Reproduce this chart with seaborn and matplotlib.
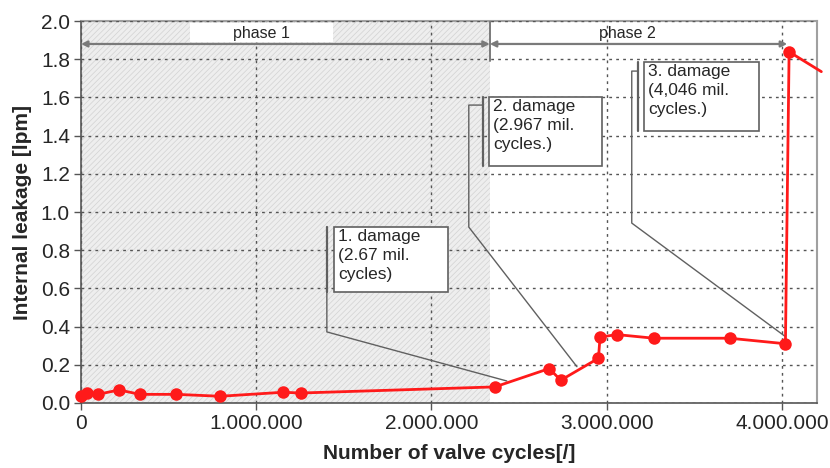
import seaborn as sns
import matplotlib.pyplot as plt
import pandas as pd
from matplotlib.ticker import FuncFormatter, MultipleLocator

# ---------------------------
# Data
# ---------------------------
cycles = [0, 36000, 95000, 217000, 337000, 544000, 795000, 1154000, 1253000,
          2362000, 2672000, 2738000, 2953000, 2962000, 3058000, 3269000,
          3702000, 4020000, 4041000]
leakage = [0.038, 0.050, 0.045, 0.068, 0.045, 0.045, 0.035, 0.056, 0.052,
           0.084, 0.180, 0.119, 0.234, 0.345, 0.358, 0.339,
           0.339, 0.310, 1.839]
# line keeps going past the right edge of the plot
tail_x = [4041000, 4225000]
tail_y = [1.839, 1.735]

phase_split = 2333000
phase_end = 4030000

damage_labels = ["1. damage\n(2.67 mil.\ncycles)",
                 "2. damage\n(2.967 mil.\ncycles.)",
                 "3. damage\n(4,046 mil.\ncycles.)"]

df = pd.DataFrame({"cycles": cycles, "leakage": leakage})

# ---------------------------
# Visualization
# ---------------------------
sns.set_style("white")
plt.rcParams["font.family"] = ["Liberation Sans", "DejaVu Sans"]
plt.rcParams["hatch.linewidth"] = 0.5

fig = plt.figure(figsize=(8.3, 4.68), dpi=100)
ax = fig.add_axes([0.0976, 0.139, 0.8867, 0.816])

# hatched phase 1 region
ax.axvspan(0, phase_split, facecolor="#eeeeee", edgecolor="#d2d2d2",
           hatch="//////", linewidth=0, zorder=0)

sns.lineplot(data=df, x="cycles", y="leakage", sort=False, estimator=None,
             color="#ff1a1a", linewidth=2, marker="o", markersize=9,
             markeredgewidth=0, clip_on=False, ax=ax, zorder=5)
ax.plot(tail_x, tail_y, color="#ff1a1a", linewidth=2, clip_on=False, zorder=5)

ax.set_xlim(0, 4200000)
ax.set_ylim(0, 2.0)
ax.xaxis.set_major_locator(MultipleLocator(1000000))
ax.yaxis.set_major_locator(MultipleLocator(0.2))
ax.xaxis.set_major_formatter(FuncFormatter(lambda v, p: f"{int(v):,}".replace(",", ".")))
ax.yaxis.set_major_formatter(FuncFormatter(lambda v, p: f"{v:.1f}"))
ax.tick_params(axis="both", labelsize=15, length=5, width=1, color="#555555",
               direction="out", left=True, bottom=True, pad=3)

ax.grid(True, linestyle=(0, (2, 3)), color="#555555", linewidth=1)
ax.set_axisbelow(False)
for ln in ax.get_xgridlines() + ax.get_ygridlines():
    ln.set_zorder(1)

for side in ["top", "right"]:
    ax.spines[side].set_color("#a0a0a0")
    ax.spines[side].set_linewidth(1.5)
for side in ["left", "bottom"]:
    ax.spines[side].set_color("#555555")
    ax.spines[side].set_linewidth(1.2)

ax.set_xlabel("Number of valve cycles[/]", fontsize=15, fontweight="bold", labelpad=8)
ax.set_ylabel("Internal leakage [lpm]", fontsize=15, fontweight="bold", labelpad=6)

# phase arrows
arrow_y = 1.88
arr = dict(arrowstyle="<|-|>", color="#7a7a7a", lw=1.6, mutation_scale=9,
           shrinkA=0, shrinkB=0)
ax.annotate("", xy=(0, arrow_y), xytext=(phase_split, arrow_y), arrowprops=arr, zorder=6)
ax.annotate("", xy=(phase_split, arrow_y), xytext=(phase_end, arrow_y), arrowprops=arr, zorder=6)
ax.plot([phase_split, phase_split], [1.79, 2.0], color="#7a7a7a", lw=1.4, zorder=6)
ax.fill_between([620000, 1440000], 1.89, 1.99, color="white", zorder=3, linewidth=0)
ax.text(1030000, 1.937, "phase 1", ha="center", va="center", fontsize=11.5, zorder=7)
ax.text(3120000, 1.937, "phase 2", ha="center", va="center", fontsize=11.5, zorder=7)

# damage callouts: box (x0, x1, ytop, ybottom), bracket x, leader path
boxes = [(1443000, 2094000, 0.921, 0.581),
         (2327000, 2972000, 1.602, 1.241),
         (3212000, 3868000, 1.785, 1.424)]
brackets = [1403000, 2293000, 3177000]
leaders = [([1403000, 1403000, 2430000], [0.921, 0.372, 0.115]),
           ([2293000, 2213000, 2213000, 2830000], [1.560, 1.560, 0.921, 0.190]),
           ([3177000, 3143000, 3143000, 4016000], [1.738, 1.738, 0.942, 0.350])]

for (x0, x1, yt, yb), bx, (lx, lyv), label in zip(boxes, brackets, leaders, damage_labels):
    ax.fill([x0, x1, x1, x0], [yb, yb, yt, yt], facecolor="white",
            edgecolor="#606060", linewidth=1.2, zorder=6)
    ax.plot([bx, bx], [yb, yt], color="#606060", lw=1.6, zorder=6)
    ax.plot(lx, lyv, color="#606060", lw=1.0, zorder=4)
    ax.text(x0 + 25000, yt - 0.01, label, ha="left", va="top",
            fontsize=12.5, linespacing=1.32, zorder=7)

plt.savefig("out.png", dpi=100)
plt.close()
